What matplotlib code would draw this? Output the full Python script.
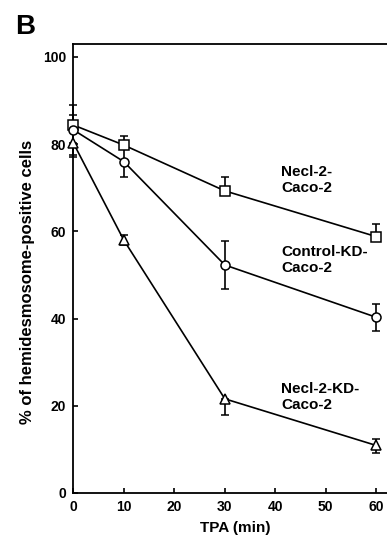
import matplotlib
matplotlib.use("Agg")
import matplotlib.pyplot as plt

plt.rcParams['font.family'] = ['Liberation Sans', 'DejaVu Sans']
plt.rcParams['font.weight'] = 'bold'

time_min = [0, 10, 30, 60]

necl2 = [84.4, 79.8, 69.3, 58.8]
necl2_err_lo = [0, 0, 0, 0]
necl2_err_hi = [2.3, 2.1, 3.2, 2.9]

control_kd = [83.3, 76.0, 52.3, 40.3]
control_kd_err = [5.7, 3.5, 5.5, 3.1]

necl2_kd = [80.3, 58.0, 21.6, 10.9]
necl2_kd_err_lo = [3.2, 1.2, 3.7, 1.7]
necl2_kd_err_hi = [0, 1.2, 0, 1.5]

x_ticks = [0, 10, 20, 30, 40, 50, 60]
y_ticks = [0, 20, 40, 60, 80, 100]

series_labels = ["Necl-2-\nCaco-2", "Control-KD-\nCaco-2", "Necl-2-KD-\nCaco-2"]
label_pos = [(41.2, 71.8), (41.2, 53.5), (41.2, 22.0)]

W, H = 387, 536
fig = plt.figure(figsize=(W / 100, H / 100), dpi=100)
xmax = 64
px_per_x = 303 / 60
px_per_y = 87.2 / 20
ax_w_px = xmax * px_per_x
ax_h_px = 103 * px_per_y
ax = fig.add_axes([73.3 / W, 43 / H, ax_w_px / W, ax_h_px / H])

common = dict(color='black', lw=1.2, capsize=3, capthick=1.2, elinewidth=1.2,
              markerfacecolor='white', markeredgecolor='black', markeredgewidth=1.1,
              markersize=6.5, zorder=3, clip_on=False)

ax.errorbar(time_min, necl2, yerr=[necl2_err_lo, necl2_err_hi], marker='s', **common)
ax.errorbar(time_min, control_kd, yerr=control_kd_err, marker='o', **common)
ax.errorbar(time_min, necl2_kd, yerr=[necl2_kd_err_lo, necl2_kd_err_hi], marker='^', **common)

for lab, (lx, ly) in zip(series_labels, label_pos):
    ax.text(lx, ly, lab, fontsize=11, fontweight='bold', ha='left', va='center',
            linespacing=1.2)

ax.set_xlim(0, xmax)
ax.set_ylim(0, 103)
ax.set_xticks(x_ticks)
ax.set_yticks(y_ticks)
ax.tick_params(direction='in', length=3.5, width=1.2, labelsize=10, pad=5)
for lbl in ax.get_xticklabels() + ax.get_yticklabels():
    lbl.set_fontweight('bold')
for sp in ax.spines.values():
    sp.set_linewidth(1.3)

ax.set_xlabel("TPA (min)", fontsize=11, fontweight='bold')
ax.xaxis.set_label_coords((235 - 73.3) / ax_w_px, -(521 - 493) / ax_h_px)
ax.set_ylabel("% of hemidesmosome-positive cells", fontsize=12, fontweight='bold')
ax.yaxis.set_label_coords((35 - 73.3) / ax_w_px, (493 - 282) / ax_h_px)

fig.text(15 / W, 1 - 27.5 / H, "B", fontsize=20, fontweight='bold', ha='left', va='center')

fig.savefig("out.png", dpi=100)
